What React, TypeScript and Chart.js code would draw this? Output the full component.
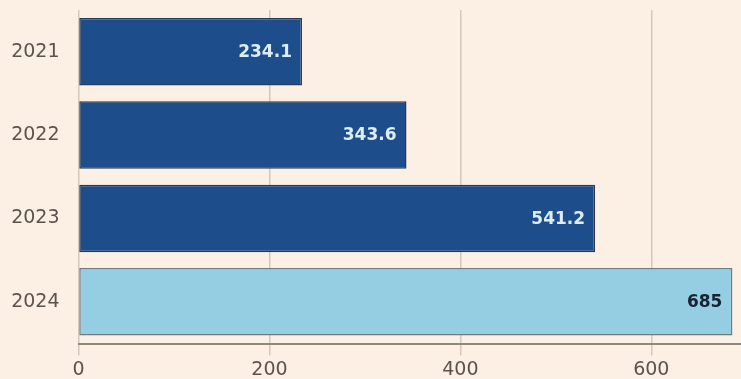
import React, { useEffect, useRef } from "react";
import { Chart, registerables } from "chart.js";

Chart.register(...registerables);

const years = ["2021", "2022", "2023", "2024"];
const values = [234.1, 343.6, 541.2, 685];
const xTicks = [0, 200, 400, 600];
const barColors = ["#1d4e8b", "#1d4e8b", "#1d4e8b", "#95cee3"];
const barBorders = ["#2a3c55", "#2a3c55", "#2a3c55", "#6f7d82"];
const labelColors = ["#dcedf6", "#dcedf6", "#dcedf6", "#17232e"];

const BG = "#fcefe4";

const valueLabels = {
  id: "valueLabels",
  afterDatasetsDraw(chart: any) {
    const ctx = chart.ctx;
    const meta = chart.getDatasetMeta(0);
    ctx.save();
    ctx.font = "bold 17px 'DejaVu Sans'";
    ctx.textAlign = "right";
    ctx.textBaseline = "middle";
    meta.data.forEach((bar: any, i: number) => {
      ctx.fillStyle = labelColors[i];
      ctx.fillText(String(values[i]), bar.x - 10, bar.y + 1);
    });
    ctx.restore();
  },
};

export default function App() {
  const canvasRef = useRef<HTMLCanvasElement | null>(null);

  useEffect(() => {
    if (!canvasRef.current) return;
    const chart = new Chart(canvasRef.current, {
      type: "bar",
      data: {
        labels: years,
        datasets: [
          {
            data: values,
            backgroundColor: barColors,
            borderColor: barBorders,
            borderWidth: 1.5,
            borderSkipped: false,
            barPercentage: 0.9,
            categoryPercentage: 0.9,
          },
        ],
      },
      options: {
        indexAxis: "y",
        animation: false,
        responsive: false,
        maintainAspectRatio: false,
        layout: { padding: { top: 10, right: 0, bottom: 0, left: 0 } },
        plugins: {
          legend: { display: false },
          tooltip: { enabled: false },
        },
        scales: {
          x: {
            type: "linear",
            min: 0,
            max: 694,
            afterBuildTicks(scale: any) {
              scale.ticks = xTicks.map((v) => ({ value: v }));
            },
            afterFit(scale: any) {
              scale.height = 35.5;
              scale.paddingLeft = 0;
              scale.paddingRight = 0;
            },
            grid: {
              color: "#d3c8be",
              lineWidth: 1.5,
              tickLength: 12,
              drawTicks: true,
            },
            border: { display: true, color: "#8d8884", width: 2 },
            ticks: {
              color: "#5b534e",
              font: { family: "'DejaVu Sans'", size: 19 },
              padding: 3,
              maxRotation: 0,
            },
          },
          y: {
            afterFit(scale: any) {
              scale.width = 78.5;
              scale.paddingTop = 0;
              scale.paddingBottom = 0;
            },
            grid: { display: false, drawTicks: false },
            border: { display: false },
            ticks: {
              color: "#5b534e",
              font: { family: "'DejaVu Sans'", size: 19 },
              padding: 19,
            },
          },
        },
      },
      plugins: [valueLabels],
    });
    return () => chart.destroy();
  }, []);

  return (
    <div
      style={{
        position: "fixed",
        left: 0,
        top: 0,
        width: 741,
        height: 379,
        background: BG,
        overflow: "hidden",
      }}
    >
      <canvas ref={canvasRef} width={741} height={379} style={{ display: "block" }} />
    </div>
  );
}
